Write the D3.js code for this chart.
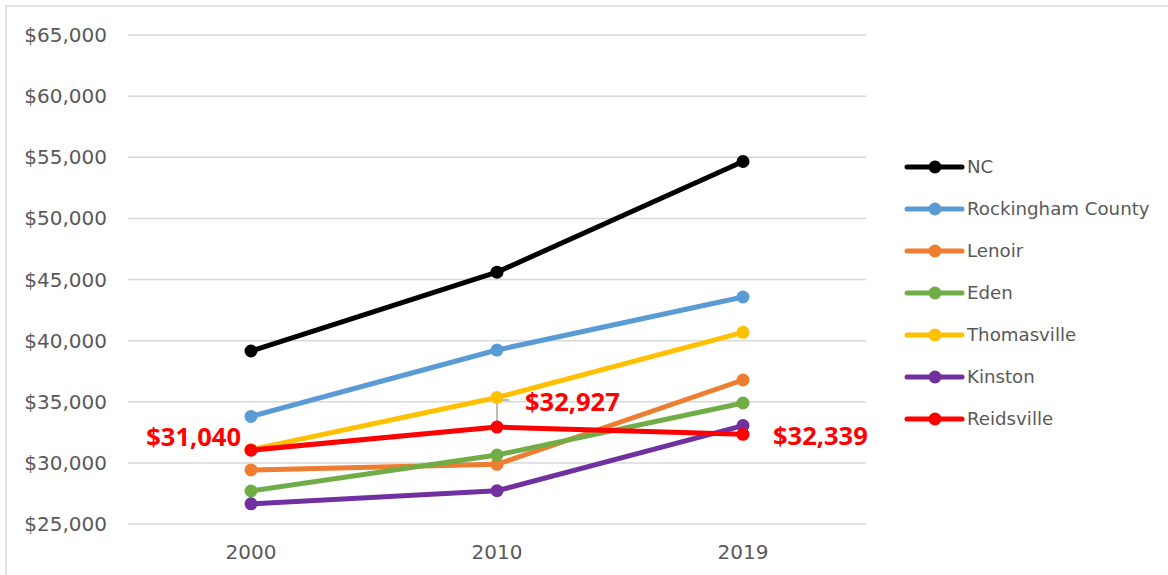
<!DOCTYPE html>
<html>
<head>
<meta charset="utf-8">
<script src="https://cdn.jsdelivr.net/npm/d3@7"></script>
<style>
  body { margin: 0; background: #fff; }
  svg { display: block; }
</style>
</head>
<body>
<div id="chart"></div>
<script>
// data
const years = ["2000", "2010", "2019"];
const seriesNames = ["NC", "Rockingham County", "Lenoir", "Eden", "Thomasville", "Kinston", "Reidsville"];
const nc = [39150, 45600, 54650];
const rockingham = [33800, 39230, 43570];
const lenoir = [29420, 29880, 36780];
const eden = [27700, 30640, 34900];
const thomasville = [31080, 35350, 40680];
const kinston = [26650, 27720, 33050];
const reidsville = [31040, 32927, 32339];
const yTicks = [25000, 30000, 35000, 40000, 45000, 50000, 55000, 60000, 65000];

const colors = ["#000000", "#5B9BD5", "#ED7D31", "#70AD47", "#FFC000", "#7030A0", "#FF0000"];
const allValues = [nc, rockingham, lenoir, eden, thomasville, kinston, reidsville];

const W = 1168, H = 575;
const margin = {top: 35, right: 302, bottom: 51, left: 128};
const width = W - margin.left - margin.right;
const height = H - margin.top - margin.bottom;

const svg = d3.select("#chart").append("svg")
    .attr("width", W)
    .attr("height", H);

// chart frame (right and bottom edges fall outside the picture)
svg.append("rect")
    .attr("x", 6).attr("y", 6)
    .attr("width", W + 20).attr("height", H + 20)
    .attr("fill", "none")
    .attr("stroke", "#d9d9d9")
    .attr("stroke-width", 1.5);

const chart = svg.append("g")
    .attr("transform", "translate(" + margin.left + "," + margin.top + ")");

const x = d3.scaleBand()
    .domain(years)
    .range([0, width]);

const y = d3.scaleLinear()
    .domain([25000, 65000])
    .range([height, 0]);

const fmt = d3.format("$,");

// gridlines
chart.append("g")
  .selectAll("line")
  .data(yTicks)
  .enter().append("line")
    .attr("x1", 0)
    .attr("x2", width)
    .attr("y1", d => y(d))
    .attr("y2", d => y(d))
    .attr("stroke", "#d9d9d9")
    .attr("stroke-width", 1.5);

// y labels
chart.append("g")
  .selectAll("text")
  .data(yTicks)
  .enter().append("text")
    .attr("x", -21)
    .attr("y", d => y(d))
    .attr("dy", "0.35em")
    .attr("text-anchor", "end")
    .attr("font-family", "'DejaVu Sans', sans-serif")
    .attr("font-size", 20)
    .attr("fill", "#595959")
    .text(d => fmt(d));

// x labels
chart.append("g")
  .selectAll("text")
  .data(years)
  .enter().append("text")
    .attr("x", d => x(d) + x.bandwidth() / 2)
    .attr("y", height + 28)
    .attr("dy", "0.35em")
    .attr("text-anchor", "middle")
    .attr("font-family", "'DejaVu Sans', sans-serif")
    .attr("font-size", 20)
    .attr("fill", "#595959")
    .text(d => d);

const cx = d => x(d) + x.bandwidth() / 2;

const line = d3.line()
    .x((d, i) => cx(years[i]))
    .y(d => y(d));

const series = seriesNames.map((name, i) => ({name: name, color: colors[i], values: allValues[i]}));

// leader line for the 2010 label
chart.append("path")
    .attr("d", "M" + cx("2010") + "," + (y(32927) - 4) + "V" + (y(32927) - 27) + "H" + (cx("2010") + 12))
    .attr("fill", "none")
    .attr("stroke", "#a6a6a6")
    .attr("stroke-width", 1.5);

const g = chart.selectAll(".series")
  .data(series)
  .enter().append("g")
    .attr("class", "series");

g.append("path")
    .attr("d", d => line(d.values))
    .attr("fill", "none")
    .attr("stroke", d => d.color)
    .attr("stroke-width", 5)
    .attr("stroke-linejoin", "round");

g.selectAll("circle")
  .data(d => d.values.map(v => ({v: v, color: d.color})))
  .enter().append("circle")
    .attr("cx", (d, i) => cx(years[i]))
    .attr("cy", d => y(d.v))
    .attr("r", 6.5)
    .attr("fill", d => d.color);

// Reidsville data labels
const labelPos = [
  {dx: -10, dy: -13, anchor: "end"},
  {dx: 28, dy: -25, anchor: "start"},
  {dx: 30, dy: 2, anchor: "start"}
];
chart.append("g")
  .selectAll("text")
  .data(reidsville)
  .enter().append("text")
    .attr("x", (d, i) => cx(years[i]) + labelPos[i].dx)
    .attr("y", (d, i) => y(d) + labelPos[i].dy)
    .attr("dy", "0.35em")
    .attr("text-anchor", (d, i) => labelPos[i].anchor)
    .attr("font-family", "'Open Sans', sans-serif")
    .attr("font-weight", "bold")
    .attr("font-size", 25.5)
    .attr("fill", "#FF0000")
    .text(d => fmt(d));

// legend
const legend = svg.append("g")
    .attr("transform", "translate(907,167)")
  .selectAll("g")
  .data(series)
  .enter().append("g")
    .attr("transform", (d, i) => "translate(0," + i * 42 + ")");

legend.append("line")
    .attr("x1", 0).attr("x2", 55)
    .attr("stroke", d => d.color)
    .attr("stroke-width", 5)
    .attr("stroke-linecap", "round");

legend.append("circle")
    .attr("cx", 28)
    .attr("r", 6.5)
    .attr("fill", d => d.color);

legend.append("text")
    .attr("x", 60)
    .attr("dy", "0.35em")
    .attr("font-family", "'DejaVu Sans', sans-serif")
    .attr("font-size", 18.2)
    .attr("fill", "#595959")
    .text(d => d.name);
</script>
</body>
</html>
